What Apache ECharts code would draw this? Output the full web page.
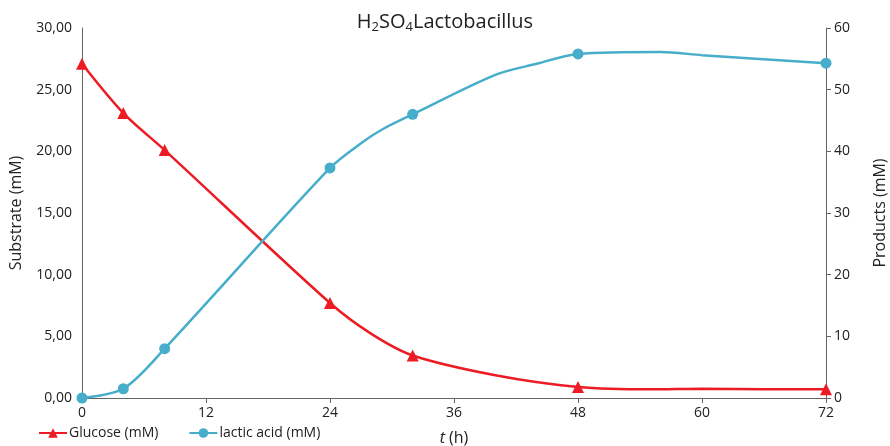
<!DOCTYPE html>
<html><head><meta charset="utf-8">
<script src="https://cdn.jsdelivr.net/npm/echarts@6/dist/echarts.min.js"></script>
<style>html,body{margin:0;padding:0;background:#fff}#c{width:890px;height:446px}</style>
</head><body><div id="c"></div>
<script>
// Glucose (mM), left axis: [t (h), value]; marked points flagged
const glucoseT = [0, 4, 8, 24, 28, 32, 40, 48, 55, 60, 66, 72];
const glucoseV = [27.1, 23.1, 20.1, 7.7, 5.2, 3.45, 1.85, 0.9, 0.7, 0.75, 0.7, 0.7];
const glucoseMarked = [1, 1, 1, 1, 0, 1, 0, 1, 0, 0, 0, 1];
// Lactic acid (mM), right axis
const lacticT = [0, 4, 8, 24, 27, 29, 32, 40, 44, 48, 56, 60, 72];
const lacticV = [0, 1.5, 8, 37.3, 41.3, 43.5, 46, 52.4, 54.2, 55.8, 56.1, 55.6, 54.3];
const lacticMarked = [1, 1, 1, 1, 0, 0, 1, 0, 0, 1, 0, 0, 1];
const xTicks = [0, 12, 24, 36, 48, 60, 72];

const FONT = '"Open Sans", "Noto Sans", sans-serif';
const RED = '#ED1C24', BLUE = '#46AECA';
function build(T, V, M) {
  return T.map((t, i) => ({ value: [t, V[i]], symbol: M[i] ? undefined : 'none' }));
}
const chart = echarts.init(document.getElementById('c'));
chart.setOption({
  animation: false,
  textStyle: { fontFamily: FONT },
  title: {
    text: '{n|H}{s|2}{n|SO}{s|4}{n|Lactobacillus}',
    left: 'center', top: 6,
    textStyle: { fontWeight: 'normal', rich: {
      n: { fontSize: 20, color: '#222', fontFamily: FONT, fontWeight: 'normal' },
      s: { fontSize: 13, color: '#222', fontFamily: FONT, fontWeight: 'normal', verticalAlign: 'bottom', padding: [10, 0, 0, 0] }
    } }
  },
  legend: {
    left: 36, top: 424, padding: 2, itemGap: 30, itemWidth: 28, itemHeight: 12,
    textStyle: { fontSize: 14, color: '#222', fontFamily: FONT, padding: [0, 0, 0, -3] },
    data: ['Glucose (mM)', 'lactic acid (mM)']
  },
  grid: { left: 82, right: 64, top: 28, bottom: 48, containLabel: false, outerBoundsMode: 'none' },
  xAxis: {
    type: 'value', min: 0, max: 72, interval: 12,
    name: '{i|t} (h)', nameLocation: 'middle', nameGap: 32,
    nameTextStyle: { fontSize: 16, color: '#222', rich: { i: { fontStyle: 'italic', fontSize: 16, color: '#222' } } },
    axisLine: { lineStyle: { color: '#666' } },
    axisTick: { show: true, length: 5, lineStyle: { color: '#666' } },
    axisLabel: { fontSize: 14, color: '#222', margin: 8 },
    splitLine: { show: false }
  },
  yAxis: [{
    type: 'value', min: 0, max: 30, interval: 5,
    name: 'Substrate (mM)', nameLocation: 'middle', nameGap: 58, nameRotate: 90,
    nameTextStyle: { fontSize: 16, color: '#222' },
    axisLine: { show: true, lineStyle: { color: '#666' } },
    axisTick: { show: false },
    axisLabel: { fontSize: 14, color: '#222', margin: 10, formatter: v => v.toFixed(2).replace('.', ',') },
    splitLine: { show: false }
  }, {
    type: 'value', min: 0, max: 60, interval: 10, position: 'right',
    name: 'Products (mM)', nameLocation: 'middle', nameGap: 46, nameRotate: 90,
    nameTextStyle: { fontSize: 16, color: '#222' },
    axisLine: { show: true, lineStyle: { color: '#666' } },
    axisTick: { show: true, length: 5, lineStyle: { color: '#666' } },
    axisLabel: { fontSize: 14, color: '#222', margin: 8 },
    splitLine: { show: false }
  }],
  series: [{
    name: 'Glucose (mM)', type: 'line', yAxisIndex: 0, smooth: 0.3,
    symbol: 'triangle', symbolSize: 12, showAllSymbol: true,
    itemStyle: { color: RED }, lineStyle: { color: RED, width: 2.5 },
    data: build(glucoseT, glucoseV, glucoseMarked)
  }, {
    name: 'lactic acid (mM)', type: 'line', yAxisIndex: 1, smooth: 0.3,
    symbol: 'circle', symbolSize: 11, showAllSymbol: true,
    itemStyle: { color: BLUE }, lineStyle: { color: BLUE, width: 2.5 },
    data: build(lacticT, lacticV, lacticMarked)
  }]
});
</script></body></html>
